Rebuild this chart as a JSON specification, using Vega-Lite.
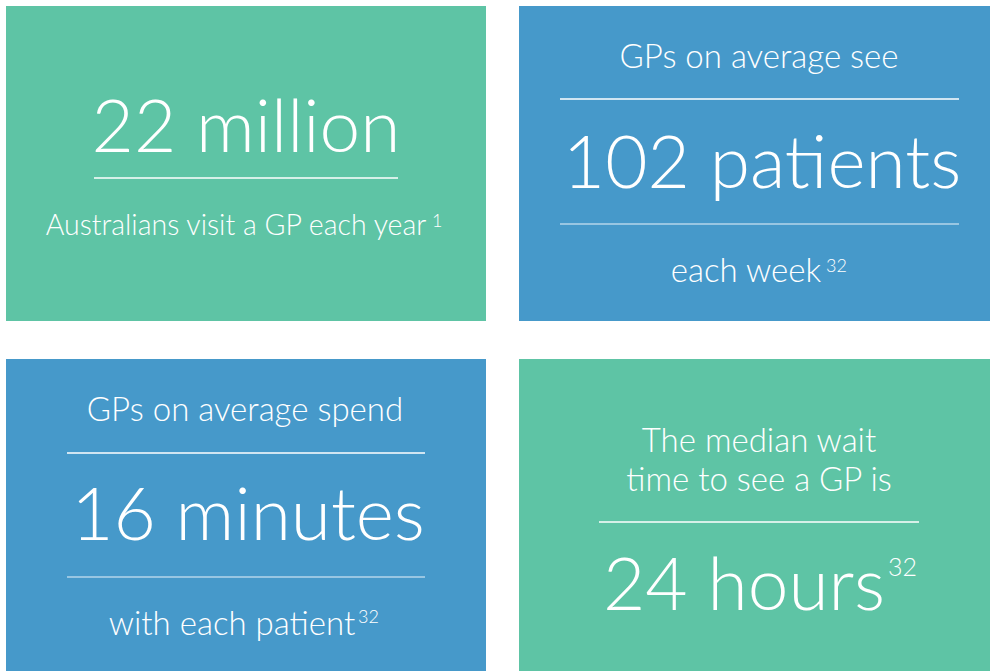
{
  "$schema": "https://vega.github.io/schema/vega-lite/v6.json",
  "width": 990,
  "height": 671,
  "padding": 0,
  "autosize": {"type": "none"},
  "background": "#ffffff",
  "config": {"view": {"stroke": null}},
  "datasets": {
    "tiles": [
      {"stat": "visits", "theme": "green", "left": 6, "right": 486, "top": 6, "bottom": 321},
      {"stat": "patients", "theme": "blue", "left": 519, "right": 990, "top": 6, "bottom": 321},
      {"stat": "minutes", "theme": "blue", "left": 6, "right": 486, "top": 359, "bottom": 671},
      {"stat": "wait", "theme": "green", "left": 519, "right": 990, "top": 359, "bottom": 671}
    ],
    "dividers": [
      {"stat": "visits", "tone": "solid", "from": 94, "to": 398, "level": 178},
      {"stat": "patients", "tone": "solid", "from": 560, "to": 959, "level": 99},
      {"stat": "patients", "tone": "soft", "from": 560, "to": 959, "level": 224},
      {"stat": "minutes", "tone": "solid", "from": 67, "to": 425, "level": 453},
      {"stat": "minutes", "tone": "soft", "from": 67, "to": 425, "level": 577},
      {"stat": "wait", "tone": "solid", "from": 599, "to": 919, "level": 522}
    ],
    "texts": [
      {"stat": "visits", "role": "figure", "label": "22 million", "cx": 246, "base": 152},
      {"stat": "visits", "role": "caption", "label": "Australians visit a GP each year", "cx": 236, "base": 235},
      {"stat": "patients", "role": "statement", "label": "GPs on average see", "cx": 759, "base": 68},
      {"stat": "patients", "role": "figure", "label": "102 patients", "cx": 762, "base": 188},
      {"stat": "patients", "role": "statement", "label": "each week", "cx": 746, "base": 282},
      {"stat": "minutes", "role": "statement", "label": "GPs on average spend", "cx": 245, "base": 421},
      {"stat": "minutes", "role": "figure", "label": "16 minutes", "cx": 248, "base": 540},
      {"stat": "minutes", "role": "statement", "label": "with each patient", "cx": 232, "base": 635},
      {"stat": "wait", "role": "statement", "label": "The median wait", "cx": 759, "base": 452},
      {"stat": "wait", "role": "statement", "label": "time to see a GP is", "cx": 759, "base": 491},
      {"stat": "wait", "role": "figure", "label": "24 hours", "cx": 744, "base": 610}
    ],
    "refs": [
      {"stat": "visits", "role": "supSmall", "label": "1", "cx": 432, "base": 227},
      {"stat": "patients", "role": "supSmall", "label": "32", "cx": 826, "base": 272},
      {"stat": "minutes", "role": "supSmall", "label": "32", "cx": 358, "base": 623},
      {"stat": "wait", "role": "supLarge", "label": "32", "cx": 888, "base": 576}
    ]
  },
  "layer": [
    {
      "data": {"name": "tiles"},
      "mark": {"type": "rect"},
      "encoding": {
        "x": {"field": "left", "type": "quantitative", "scale": {"domain": [0, 990], "nice": false, "zero": false}, "axis": null},
        "x2": {"field": "right"},
        "y": {"field": "top", "type": "quantitative", "scale": {"domain": [0, 671], "nice": false, "zero": false, "reverse": true}, "axis": null},
        "y2": {"field": "bottom"},
        "color": {"field": "theme", "type": "nominal", "scale": {"domain": ["green", "blue"], "range": ["#5ec4a5", "#4699ca"]}, "legend": null}
      }
    },
    {
      "data": {"name": "dividers"},
      "mark": {"type": "rule", "color": "#ffffff", "strokeWidth": 1.3},
      "encoding": {
        "x": {"field": "from", "type": "quantitative"},
        "x2": {"field": "to"},
        "y": {"field": "level", "type": "quantitative"},
        "opacity": {"field": "tone", "type": "nominal", "scale": {"type": "ordinal", "domain": ["solid", "soft"], "range": [1, 0.6]}, "legend": null}
      }
    },
    {
      "data": {"name": "texts"},
      "mark": {"type": "text", "align": "center", "baseline": "alphabetic", "font": "Lato", "fontWeight": 300, "color": "#ffffff"},
      "encoding": {
        "x": {"field": "cx", "type": "quantitative"},
        "y": {"field": "base", "type": "quantitative"},
        "text": {"field": "label"},
        "size": {"field": "role", "type": "nominal", "scale": {"type": "ordinal", "domain": ["figure", "statement", "caption", "supSmall", "supLarge"], "range": [73, 33, 28.5, 18, 25]}, "legend": null}
      }
    },
    {
      "data": {"name": "refs"},
      "mark": {"type": "text", "align": "left", "baseline": "alphabetic", "font": "Lato", "fontWeight": 300, "color": "#ffffff"},
      "encoding": {
        "x": {"field": "cx", "type": "quantitative"},
        "y": {"field": "base", "type": "quantitative"},
        "text": {"field": "label"},
        "size": {"field": "role", "type": "nominal", "scale": {"type": "ordinal", "domain": ["figure", "statement", "caption", "supSmall", "supLarge"], "range": [73, 33, 28.5, 18, 25]}, "legend": null}
      }
    }
  ]
}
